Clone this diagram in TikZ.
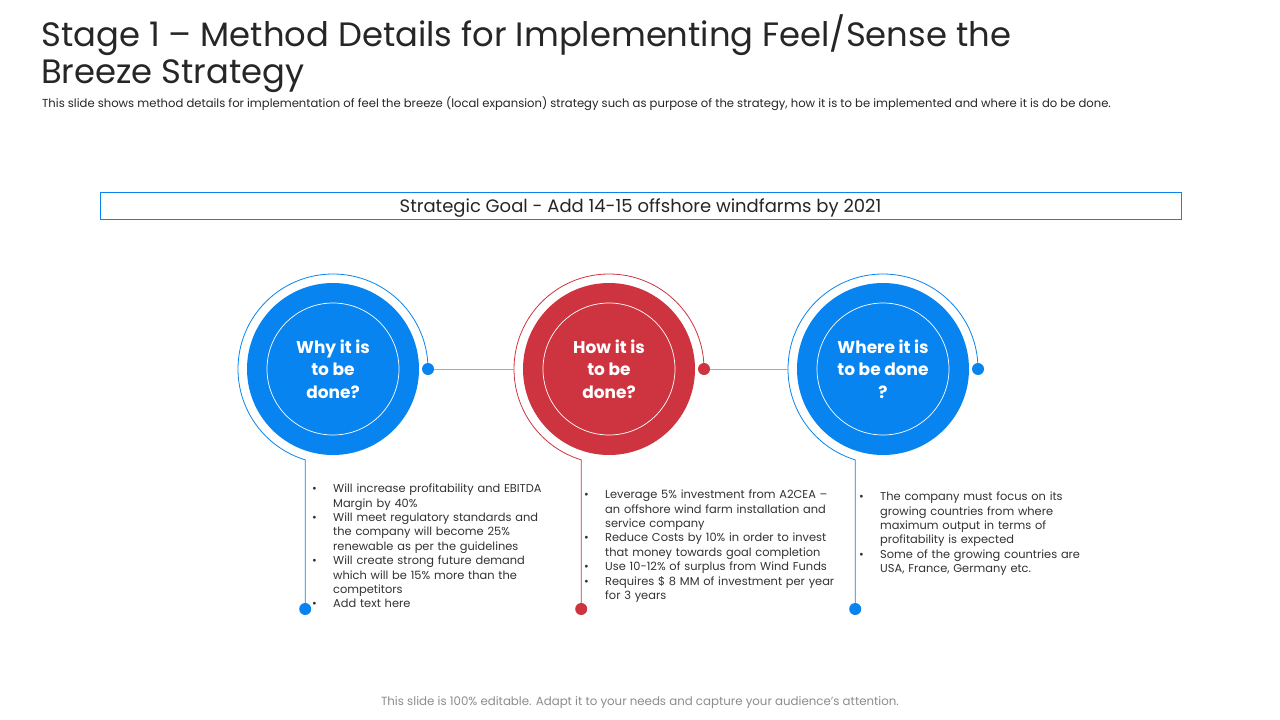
\documentclass[tikz,border=0pt]{standalone}
\usepackage{fontspec}
\setmainfont{Poppins}
\usetikzlibrary{positioning}

\definecolor{cblue}{RGB}{8,132,240}
\definecolor{cred}{RGB}{206,52,64}
\definecolor{ctext}{RGB}{38,38,38}
\definecolor{cbody}{RGB}{50,50,50}
\definecolor{cline}{RGB}{170,170,170}
\definecolor{cfoot}{RGB}{140,140,140}

\newcommand{\bitem}[1]{\par\noindent\hangindent=21pt\hangafter=1\makebox[21pt][l]{\textbullet}#1\par}

\tikzset{
  bigdisc/.style={circle, minimum size=172pt, inner sep=0pt, text=white,
    font=\fontsize{17}{22.5}\selectfont\bfseries, align=center},
  dot/.style={circle, minimum size=12pt, inner sep=0pt},
  bullets/.style={anchor=north west, inner sep=0pt, text width=270pt,
    text=cbody, font=\fontsize{11.4}{14.4}\selectfont},
  ring/.style={line width=0.8pt},
}

\begin{document}
\begin{tikzpicture}[x=1pt,y=-1pt]
        \useasboundingbox[fill=white] (0,0) rectangle (1280,720);

        % title and subtitle
        \node[anchor=north west, inner sep=0pt, align=left, text=ctext,
              font=\fontsize{33.8}{37}\selectfont] (title) at (41,14)
              {Stage 1 -- Method Details for Implementing Feel/Sense the\\Breeze Strategy};
        \node[anchor=west, inner sep=0pt, text=ctext,
              font=\fontsize{11.6}{13}\selectfont] (sub) at (42,104)
              {This slide shows method details for implementation of feel the breeze (local expansion) strategy such as purpose of the strategy, how it is to be implemented and where it is do be done.};

        % goal box
        \node[draw=cblue, line width=0.8pt, minimum width=1081pt, minimum height=27pt,
              inner sep=0pt, text height=15pt, text depth=2pt, text=ctext,
              font=\fontsize{18}{20}\selectfont] (goal) at (640.5,205.5)
              {Strategic Goal - Add 14-15 offshore windfarms by 2021};

        %############################################

        \coordinate (C1) at (333,369);
        \coordinate (C2) at (609,369);
        \coordinate (C3) at (883,369);

        \node[bigdisc, fill=cblue] (why) at (C1) {Why it is\\to be\\done?};
        \node[bigdisc, fill=cred] (how) at (C2) {How it is\\to be\\done?};
        \node[bigdisc, fill=cblue] (where) at (C3) {Where it is\\to be done\\?};

        \draw[white, line width=0.7pt] (why.center) circle[radius=66];
        \draw[white, line width=0.7pt] (how.center) circle[radius=66];
        \draw[white, line width=0.7pt] (where.center) circle[radius=66];

        \coordinate (howL) at (514,369);
        \coordinate (whereL) at (788,369);

        \node[dot, fill=cblue] (whyR) at (428,369) {};
        \node[dot, fill=cred] (howR) at (704,369) {};
        \node[dot, fill=cblue] (whereR) at (978,369) {};

        \node[dot, fill=cblue] (whyB) at (305.2,609) {};
        \node[dot, fill=cred] (howB) at (581.2,609) {};
        \node[dot, fill=cblue] (whereB) at (855.2,609) {};

        \draw[ring, cblue] (whyR.center) arc[start angle=0, end angle=-253, radius=95] -- (whyB.center);
        \draw[ring, cred] (howR.center) arc[start angle=0, end angle=-253, radius=95] -- (howB.center);
        \draw[ring, cblue] (whereR.center) arc[start angle=0, end angle=-253, radius=95] -- (whereB.center);

        \draw[cline, line width=0.6pt] (whyR) -- (howL);
        \draw[cline, line width=0.6pt] (howR) -- (whereL);

        % bullet texts
        \node[bullets] (whytext) at (312,478) {%
          \bitem{Will increase profitability and EBITDA\newline Margin by 40\%}
          \bitem{Will meet regulatory standards and\newline the company  will become 25\%\newline renewable as per the guidelines}
          \bitem{Will create strong future demand\newline which will be 15\% more than the\newline competitors}
          \bitem{Add text here}};
        \node[bullets] (howtext) at (584,484) {%
          \bitem{Leverage 5\% investment from A2CEA --\newline an offshore wind farm installation and\newline service company}
          \bitem{Reduce Costs by 10\% in order to invest\newline that money towards goal completion}
          \bitem{Use 10-12\% of surplus from Wind Funds}
          \bitem{Requires \$ 8 MM of investment per year\newline for 3 years}};
        \node[bullets] (wheretext) at (859,486) {%
          \bitem{The company must focus on its\newline growing countries from where\newline maximum output in terms of\newline profitability is expected}
          \bitem{Some of the growing countries are\newline USA, France, Germany etc.}};

        % footer
        \node[inner sep=0pt, text=cfoot, font=\fontsize{11.8}{13}\selectfont] (foot) at (640,702.5)
              {This slide is 100\% editable. Adapt it to your needs and capture your audience's attention.};
\end{tikzpicture}
\end{document}
